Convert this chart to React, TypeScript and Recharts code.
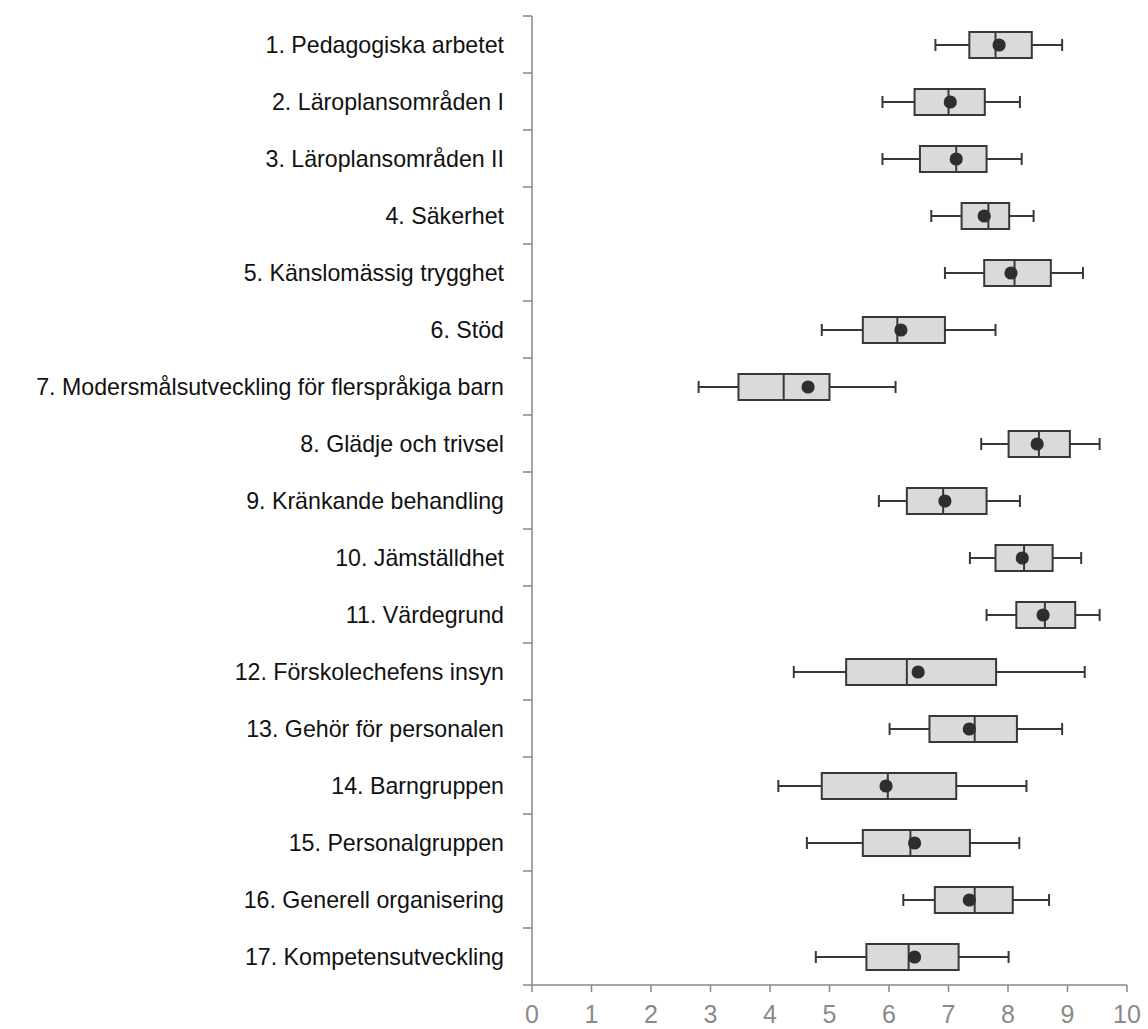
import React from "react";
import { ComposedChart, Bar, XAxis, YAxis } from "recharts";

const categories = [
  "1. Pedagogiska arbetet",
  "2. Läroplansområden I",
  "3. Läroplansområden II",
  "4. Säkerhet",
  "5. Känslomässig trygghet",
  "6. Stöd",
  "7. Modersmålsutveckling för flerspråkiga barn",
  "8. Glädje och trivsel",
  "9. Kränkande behandling",
  "10. Jämställdhet",
  "11. Värdegrund",
  "12. Förskolechefens insyn",
  "13. Gehör för personalen",
  "14. Barngruppen",
  "15. Personalgruppen",
  "16. Generell organisering",
  "17. Kompetensutveckling",
];

const whiskerLow = [6.78, 5.89, 5.89, 6.71, 6.94, 4.87, 2.8, 7.55, 5.83, 7.36, 7.64, 4.4, 6.01, 4.14, 4.62, 6.24, 4.77];
const q1 = [7.35, 6.43, 6.52, 7.22, 7.6, 5.56, 3.47, 8.01, 6.3, 7.79, 8.14, 5.28, 6.68, 4.87, 5.56, 6.77, 5.62];
const median = [7.79, 7.0, 7.13, 7.67, 8.11, 6.14, 4.23, 8.52, 6.91, 8.27, 8.62, 6.3, 7.44, 5.98, 6.36, 7.44, 6.33];
const q3 = [8.4, 7.61, 7.64, 8.02, 8.72, 6.94, 5.0, 9.04, 7.64, 8.75, 9.13, 7.8, 8.15, 7.13, 7.36, 8.08, 7.17];
const whiskerHigh = [8.91, 8.2, 8.23, 8.43, 9.26, 7.79, 6.11, 9.54, 8.2, 9.23, 9.54, 9.29, 8.91, 8.31, 8.19, 8.69, 8.01];
const mean = [7.85, 7.03, 7.13, 7.6, 8.05, 6.2, 4.64, 8.49, 6.94, 8.24, 8.59, 6.49, 7.35, 5.95, 6.43, 7.35, 6.43];

const xTicks = [0, 1, 2, 3, 4, 5, 6, 7, 8, 9, 10];

const data = categories.map((name, i) => ({
  name,
  range: [whiskerLow[i], whiskerHigh[i]],
  lo: whiskerLow[i],
  q1: q1[i],
  med: median[i],
  q3: q3[i],
  hi: whiskerHigh[i],
  mean: mean[i],
}));

const INK = "#383838";
const AXIS = "#878787";
const BAND = 57;

function BoxShape(props: any) {
  const { x, y, width, height, payload } = props;
  if (!payload) return null;
  const left = Math.min(x, x + width);
  const w = Math.abs(width);
  const k = w / (payload.hi - payload.lo);
  const px = (v: number) => left + (v - payload.lo) * k;
  const cy = y + height / 2;
  const cap = 6;
  return (
    <g>
      <line x1={px(payload.lo)} x2={px(payload.q1)} y1={cy} y2={cy} stroke={INK} strokeWidth={2} />
      <line x1={px(payload.q3)} x2={px(payload.hi)} y1={cy} y2={cy} stroke={INK} strokeWidth={2} />
      <line x1={px(payload.lo)} x2={px(payload.lo)} y1={cy - cap} y2={cy + cap} stroke={INK} strokeWidth={2} />
      <line x1={px(payload.hi)} x2={px(payload.hi)} y1={cy - cap} y2={cy + cap} stroke={INK} strokeWidth={2} />
      <rect
        x={px(payload.q1)}
        y={y}
        width={px(payload.q3) - px(payload.q1)}
        height={height}
        fill="#dadadb"
        stroke={INK}
        strokeWidth={2}
      />
      <line x1={px(payload.med)} x2={px(payload.med)} y1={y} y2={y + height} stroke={INK} strokeWidth={2} />
      <circle cx={px(payload.mean)} cy={cy} r={6.6} fill="#2e2e2e" />
    </g>
  );
}

function CatTick(props: any) {
  const { x, y, payload, index } = props;
  const ax = x + 28;
  return (
    <g>
      <line x1={ax - 9} x2={ax} y1={y - BAND / 2} y2={y - BAND / 2} stroke={AXIS} strokeWidth={1.5} />
      {index === categories.length - 1 && (
        <line x1={ax - 9} x2={ax} y1={y + BAND / 2} y2={y + BAND / 2} stroke={AXIS} strokeWidth={1.5} />
      )}
      <text x={x} y={y} textAnchor="end" dominantBaseline="central" fontSize={23.2} fill="#111">
        {payload.value}
      </text>
    </g>
  );
}

export default function App() {
  return (
    <div style={{ position: "absolute", left: 0, top: 0, fontFamily: "'Liberation Sans', Arial, sans-serif" }}>
      <ComposedChart
        width={1148}
        height={1029}
        data={data}
        layout="vertical"
        margin={{ top: 16, right: 21, bottom: 0, left: 0 }}
      >
        <XAxis
          type="number"
          domain={[0, 10]}
          ticks={xTicks}
          interval={0}
          height={44}
          tickSize={7}
          tickMargin={13}
          axisLine={{ stroke: AXIS, strokeWidth: 1.5 }}
          tickLine={{ stroke: AXIS, strokeWidth: 1.5 }}
          tick={{ fill: "#8a8a8a", fontSize: 25 }}
        />
        <YAxis
          type="category"
          dataKey="name"
          width={532}
          interval={0}
          tickSize={9}
          tickMargin={19}
          tickLine={false}
          axisLine={{ stroke: AXIS, strokeWidth: 1.5 }}
          tick={<CatTick />}
        />
        <Bar dataKey="range" barSize={26} isAnimationActive={false} shape={<BoxShape />} />
      </ComposedChart>
    </div>
  );
}
